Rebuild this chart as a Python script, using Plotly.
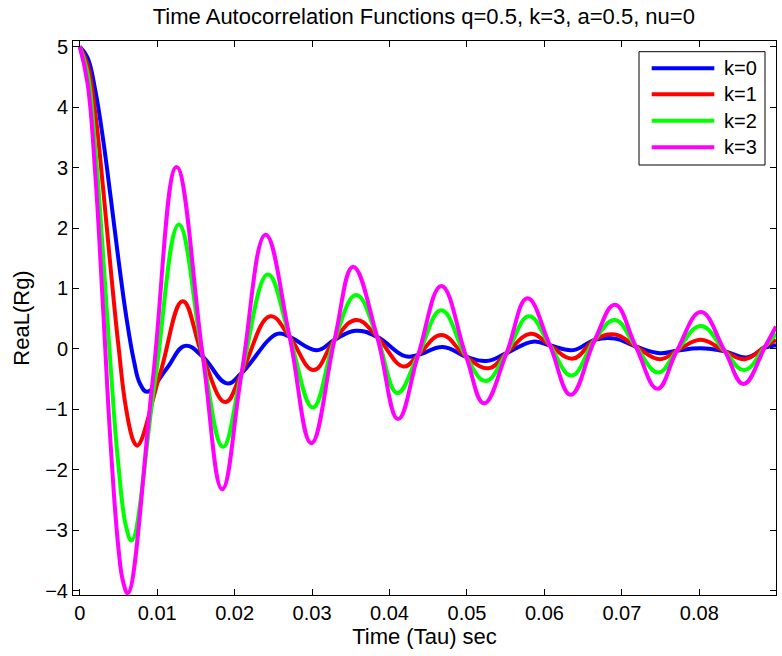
import plotly.graph_objects as go

# ---- data ----
x_k0 = [0, 0.001, 0.002, 0.003, 0.004, 0.005, 0.006, 0.007, 0.0078, 0.0087, 0.0112, 0.0136, 0.0159,
        0.0190, 0.0209, 0.0255, 0.0271, 0.0306, 0.0329, 0.0356, 0.0384, 0.0420, 0.0437, 0.0469,
        0.0499, 0.0525, 0.0551, 0.0585, 0.0607, 0.0637, 0.0665, 0.0691, 0.0718, 0.0749, 0.0771,
        0.0801, 0.0833, 0.0861, 0.0885, 0.0899]
y_k0 = [5, 4.82, 4.28, 3.48, 2.5, 1.48, 0.54, -0.2, -0.58, -0.71, -0.33, 0.05, -0.13,
        -0.57, -0.40, 0.25, 0.20, -0.02, 0.15, 0.30, 0.20, -0.12, -0.10, 0.03,
        -0.13, -0.20, -0.07, 0.12, 0.06, -0.02, 0.15, 0.17, 0.04, -0.07, -0.03,
        0.01, -0.04, -0.14, 0.02, 0.06]

x_k1 = [0, 0.001, 0.002, 0.003, 0.004, 0.005, 0.006, 0.007, 0.00745, 0.0104, 0.0133, 0.0159,
        0.0188, 0.0209, 0.0246, 0.0271, 0.0302, 0.0329, 0.0357, 0.0384, 0.0418, 0.0437, 0.0467,
        0.0499, 0.0528, 0.0551, 0.0582, 0.0607, 0.0637, 0.0665, 0.0691, 0.0718, 0.0749, 0.0771,
        0.0802, 0.0833, 0.0859, 0.0885, 0.0899]
y_k1 = [5, 4.71, 3.91, 2.68, 1.32, 0.05, -1.0, -1.54, -1.6, -0.4, 0.79, -0.13,
        -0.88, -0.40, 0.54, 0.20, -0.35, 0.15, 0.48, 0.20, -0.29, -0.10, 0.23,
        -0.13, -0.32, -0.07, 0.25, 0.06, -0.16, 0.15, 0.24, 0.04, -0.17, -0.03,
        0.15, -0.04, -0.17, 0.04, 0.15]

x_k2 = [0, 0.001, 0.002, 0.003, 0.004, 0.005, 0.006, 0.0067, 0.0097, 0.0128, 0.0159, 0.0185,
        0.0209, 0.0243, 0.0271, 0.0301, 0.0329, 0.0357, 0.0384, 0.0410, 0.0437, 0.0467, 0.0499,
        0.0524, 0.0551, 0.0580, 0.0607, 0.0635, 0.0665, 0.0691, 0.0718, 0.0747, 0.0771, 0.0802,
        0.0833, 0.0858, 0.0885, 0.0899]
y_k2 = [5, 4.57, 3.33, 1.58, -0.31, -1.93, -2.95, -3.17, -0.55, 2.06, -0.13, -1.62,
        -0.40, 1.23, 0.20, -0.97, 0.15, 0.89, 0.20, -0.73, -0.10, 0.64, -0.13,
        -0.53, -0.07, 0.54, 0.06, -0.44, 0.15, 0.48, 0.04, -0.39, -0.03, 0.38,
        -0.04, -0.35, 0.04, 0.25]

x_k3 = [0, 0.001, 0.002, 0.003, 0.004, 0.005, 0.0056, 0.0062, 0.0094, 0.0125, 0.0159, 0.0184,
        0.0209, 0.0240, 0.0271, 0.0299, 0.0329, 0.0353, 0.0384, 0.0411, 0.0437, 0.0467, 0.0499,
        0.0522, 0.0551, 0.0578, 0.0607, 0.0634, 0.0665, 0.0691, 0.0718, 0.0746, 0.0771, 0.0802,
        0.0833, 0.0857, 0.0885, 0.0899]
y_k3 = [5, 4.4, 2.9, 0.7, -1.6, -3.3, -3.85, -4.04, -0.55, 3.01, -0.13, -2.32,
        -0.40, 1.89, 0.20, -1.56, 0.15, 1.36, 0.20, -1.16, -0.10, 1.04, -0.13,
        -0.90, -0.07, 0.84, 0.06, -0.76, 0.15, 0.73, 0.04, -0.66, -0.03, 0.61,
        -0.04, -0.58, 0.04, 0.37]

series_names = ["k=0", "k=1", "k=2", "k=3"]
series_colors = ["#0000FF", "#FF0000", "#00FF00", "#FF00FF"]

x_tick_vals = [0, 0.01, 0.02, 0.03, 0.04, 0.05, 0.06, 0.07, 0.08]
x_tick_text = ["0", "0.01", "0.02", "0.03", "0.04", "0.05", "0.06", "0.07", "0.08"]
y_tick_vals = [-4, -3, -2, -1, 0, 1, 2, 3, 4, 5]

FONT = "Liberation Sans, Arial, Helvetica, sans-serif"
W, H = 782, 656
ML, MR, MT, MB = 73, 6, 41, 61
PW, PH = W - ML - MR, H - MT - MB


def px_to_paper_x(px):
    return (px - ML) / PW


def px_to_paper_y(py):
    return (H - MB - py) / PH


fig = go.Figure()
for xs, ys, name, col in zip([x_k0, x_k1, x_k2, x_k3], [y_k0, y_k1, y_k2, y_k3],
                             series_names, series_colors):
    fig.add_trace(go.Scatter(x=xs, y=ys, mode="lines", name=name, showlegend=False,
                             line=dict(color=col, width=4, shape="spline", smoothing=1.2)))

# ---- MATLAB-style legend box (layout decoration) ----
box_l, box_r, box_t, box_b = 639, 765, 51.7, 165
line_l, line_r, text_l = 651.7, 714.3, 721.7
row_y = [68.3, 94.3, 120.7, 147.3]
shapes = [dict(type="rect", xref="paper", yref="paper",
               x0=px_to_paper_x(box_l), x1=px_to_paper_x(box_r),
               y0=px_to_paper_y(box_b), y1=px_to_paper_y(box_t),
               line=dict(color="black", width=1), fillcolor="white", layer="above")]
annotations = []
for name, col, ry in zip(series_names, series_colors, row_y):
    shapes.append(dict(type="line", xref="paper", yref="paper",
                       x0=px_to_paper_x(line_l), x1=px_to_paper_x(line_r),
                       y0=px_to_paper_y(ry), y1=px_to_paper_y(ry),
                       line=dict(color=col, width=4), layer="above"))
    annotations.append(dict(text=name, xref="paper", yref="paper",
                            x=px_to_paper_x(text_l), y=px_to_paper_y(ry),
                            xanchor="left", yanchor="middle", showarrow=False,
                            font=dict(family=FONT, size=20, color="black")))

axis_common = dict(showgrid=False, zeroline=False, showline=True, linecolor="black",
                   linewidth=1, mirror="ticks", ticks="inside", ticklen=6,
                   tickcolor="black", tickfont=dict(family=FONT, size=20, color="black"))

fig.update_layout(
    width=W, height=H,
    margin=dict(l=ML, r=MR, t=MT, b=MB),
    paper_bgcolor="white", plot_bgcolor="white",
    title=dict(text="Time Autocorrelation Functions q=0.5, k=3, a=0.5, nu=0",
               x=0.542, xanchor="center", y=1 - 16.5 / 656, yanchor="middle",
               font=dict(family=FONT, size=22, color="black")),
    xaxis=dict(range=[-0.00087, 0.0899], tickvals=x_tick_vals, ticktext=x_tick_text,
               title=dict(text="Time (Tau) sec", standoff=4,
                          font=dict(family=FONT, size=22, color="black")),
               **axis_common),
    yaxis=dict(range=[-4.071, 5.094], tickvals=y_tick_vals,
               title=dict(text="ReaL(Rg)", standoff=9,
                          font=dict(family=FONT, size=22, color="black")),
               **axis_common),
    shapes=shapes,
    annotations=annotations,
    showlegend=False,
)

fig.write_html("out.html")
